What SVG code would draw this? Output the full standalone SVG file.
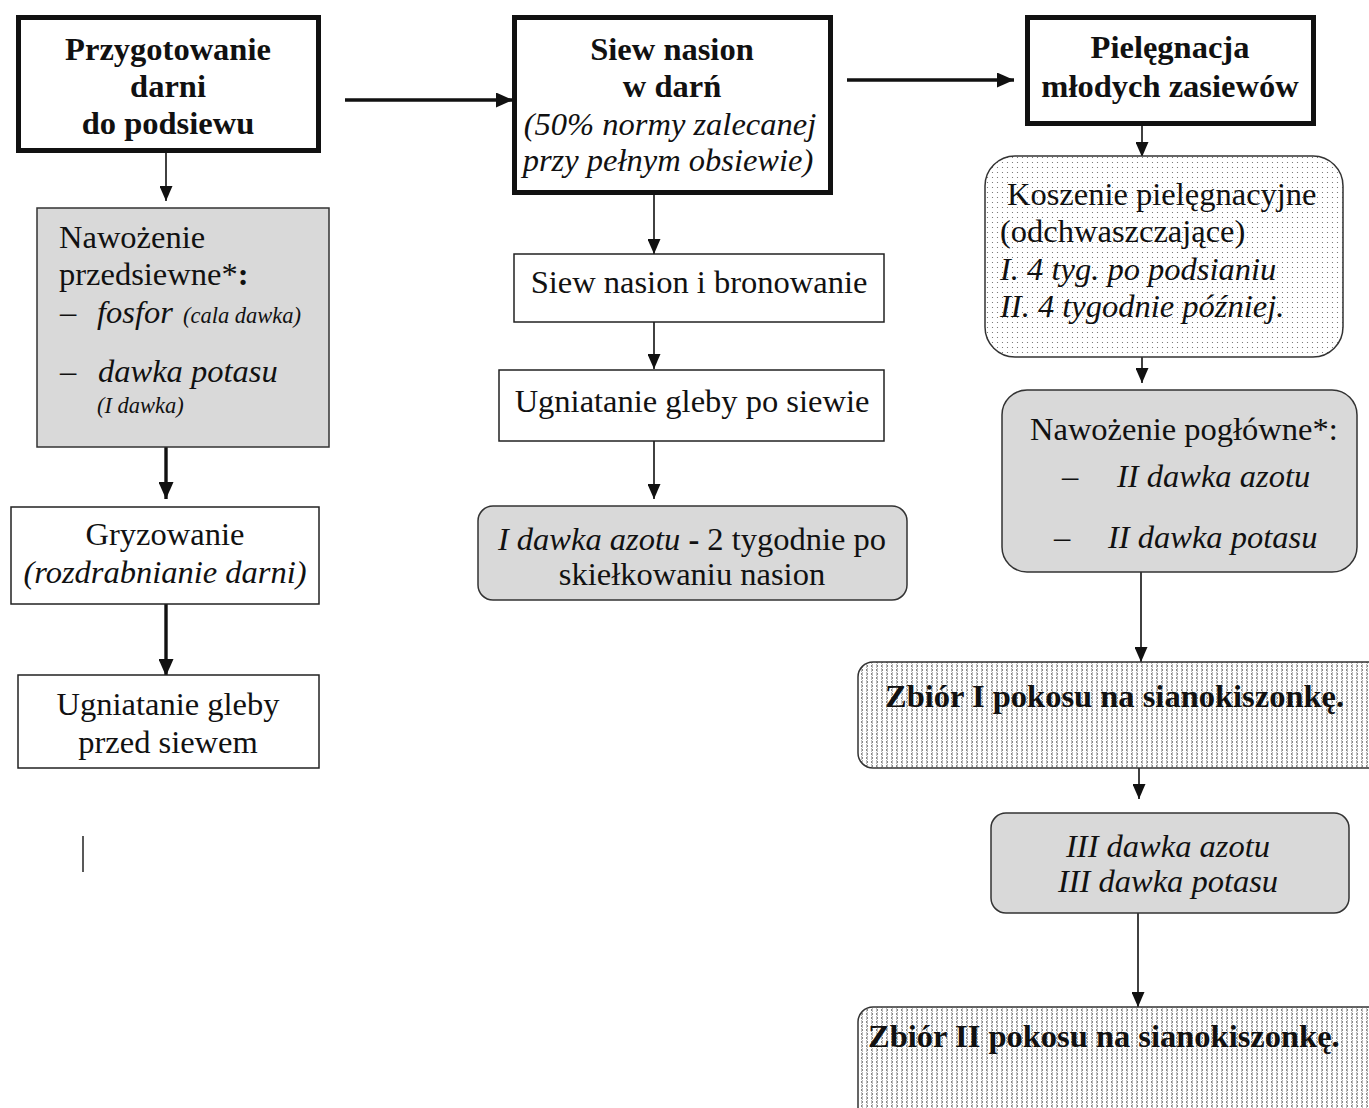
<svg xmlns="http://www.w3.org/2000/svg" width="1369" height="1108" viewBox="0 0 1369 1108">
<defs>
<style>
text{font-family:"Liberation Serif","Times New Roman",serif;fill:#111;}
.t{font-size:32.5px;}
.b{font-size:32.5px;font-weight:bold;}
.i{font-style:italic;}
.s{font-size:22.5px;font-style:italic;}
.thick{fill:#fff;stroke:#111;stroke-width:5;}
.thin{fill:#fff;stroke:#222;stroke-width:1.5;}
.gray{fill:#d9d9d9;stroke:#333;stroke-width:1.5;}
.dots{fill:url(#pd);stroke:#333;stroke-width:1.5;}
.zig{fill:url(#pz);stroke:#333;stroke-width:1.5;}
.c1{stroke:#111;stroke-width:1.6;fill:none;marker-end:url(#ah);}
.c3{stroke:#111;stroke-width:3.4;fill:none;marker-end:url(#ah3);}
</style>
<marker id="ah" markerUnits="userSpaceOnUse" markerWidth="15" markerHeight="13" refX="15" refY="6.5" orient="auto"><path d="M0,0 L15,6.5 L0,13 Z" fill="#111"/></marker>
<marker id="ah3" markerUnits="userSpaceOnUse" markerWidth="17" markerHeight="15" refX="17" refY="7.5" orient="auto"><path d="M0,0 L17,7.5 L0,15 Z" fill="#111"/></marker>
<pattern id="pd" patternUnits="userSpaceOnUse" width="5" height="5"><rect width="5" height="5" fill="#fff"/><circle cx="2.5" cy="2.5" r="0.6" fill="#666"/></pattern>
<pattern id="pz" patternUnits="userSpaceOnUse" width="10" height="8"><rect width="10" height="8" fill="#fff"/><path d="M3,0.6 L1,2 L3,3.4 M6,0.6 L8,2 L6,3.4 M1,4.6 L3,6 L1,7.4 M8,4.6 L6,6 L8,7.4" stroke="#555" stroke-width="0.8" fill="none"/></pattern>
</defs>
<rect width="1369" height="1108" fill="#fff"/>

<g id="connectors">
<line class="c1" x1="166" y1="153" x2="166" y2="201"/>
<line class="c3" x1="166" y1="447" x2="166" y2="499"/>
<line class="c3" x1="166" y1="604" x2="166" y2="676"/>
<line class="c3" x1="345" y1="100" x2="513" y2="100"/>
<line class="c3" x1="847" y1="80" x2="1014" y2="80"/>
<line class="c1" x1="654" y1="195" x2="654" y2="254"/>
<line class="c1" x1="654" y1="322" x2="654" y2="369"/>
<line class="c1" x1="654" y1="441" x2="654" y2="499"/>
<line class="c1" x1="1142" y1="125" x2="1142" y2="157"/>
<line class="c1" x1="1142" y1="357" x2="1142" y2="383"/>
<line class="c1" x1="1141" y1="563" x2="1141" y2="662"/>
<line class="c1" x1="1139" y1="768" x2="1139" y2="799"/>
<line class="c1" x1="1138" y1="913" x2="1138" y2="1007"/>
<line x1="83" y1="836" x2="83" y2="872" stroke="#222" stroke-width="1.5"/>
</g>

<g id="n-przygotowanie">
<rect class="thick" x="18.5" y="17.5" width="300" height="133"/>
<text class="b" x="168" y="60" text-anchor="middle">Przygotowanie</text>
<text class="b" x="168" y="97" text-anchor="middle">darni</text>
<text class="b" x="168" y="134" text-anchor="middle">do podsiewu</text>
</g>

<g id="n-nawozenie-przedsiewne">
<rect class="gray" x="37" y="208" width="292" height="239"/>
<text class="t" x="59" y="248">Nawożenie</text>
<text class="t" x="59" y="285">przedsiewne*<tspan font-weight="bold">:</tspan></text>
<text class="t" x="60" y="323">–</text>
<text class="t i" x="97" y="323">fosfor <tspan class="s" dx="2">(cala dawka)</tspan></text>
<text class="t" x="60" y="382">–</text>
<text class="t i" x="98" y="382">dawka potasu</text>
<text class="s" x="97" y="413">(I dawka)</text>
</g>

<g id="n-gryzowanie">
<rect class="thin" x="11" y="507" width="308" height="97"/>
<text class="t" x="165" y="545" text-anchor="middle">Gryzowanie</text>
<text class="t i" x="165" y="583" text-anchor="middle">(rozdrabnianie darni)</text>
</g>

<g id="n-ugniatanie-przed">
<rect class="thin" x="18" y="675" width="301" height="93"/>
<text class="t" x="168" y="715" text-anchor="middle">Ugniatanie gleby</text>
<text class="t" x="168" y="753" text-anchor="middle">przed siewem</text>
</g>

<g id="n-siew-w-darn">
<rect class="thick" x="514.5" y="17.5" width="316" height="175"/>
<text class="b" x="672" y="60" text-anchor="middle">Siew nasion</text>
<text class="b" x="672" y="97" text-anchor="middle">w darń</text>
<text class="t i" x="670" y="135" text-anchor="middle">(50% normy zalecanej</text>
<text class="t i" x="668" y="171" text-anchor="middle">przy pełnym obsiewie)</text>
</g>

<g id="n-siew-bronowanie">
<rect class="thin" x="514" y="254" width="370" height="68"/>
<text class="t" x="699" y="293" text-anchor="middle">Siew nasion i bronowanie</text>
</g>

<g id="n-ugniatanie-po">
<rect class="thin" x="499" y="370" width="385" height="71"/>
<text class="t" x="692" y="412" text-anchor="middle">Ugniatanie gleby po siewie</text>
</g>

<g id="n-i-dawka-azotu">
<rect class="gray" x="478" y="506" width="429" height="94" rx="15"/>
<text class="t" x="692" y="550" text-anchor="middle"><tspan font-style="italic">I dawka azotu</tspan> <tspan font-weight="bold">-</tspan> 2 tygodnie po</text>
<text class="t" x="692" y="585" text-anchor="middle">skiełkowaniu nasion</text>
</g>

<g id="n-pielegnacja">
<rect class="thick" x="1027.5" y="17.5" width="286" height="106"/>
<text class="b" x="1170" y="58" text-anchor="middle">Pielęgnacja</text>
<text class="b" x="1170" y="97" text-anchor="middle">młodych zasiewów</text>
</g>

<g id="n-koszenie">
<rect class="dots" x="985" y="156" width="358" height="201" rx="30"/>
<text class="t" x="1007" y="205">Koszenie pielęgnacyjne</text>
<text class="t" x="1000" y="242">(odchwaszczające)</text>
<text class="t i" x="1000" y="280">I. 4 tyg. po podsianiu</text>
<text class="t i" x="1000" y="317">II. 4 tygodnie później.</text>
</g>

<g id="n-nawozenie-poglowne">
<rect class="gray" x="1002" y="390" width="355" height="182" rx="25"/>
<text class="t" x="1030" y="440">Nawożenie pogłówne*:</text>
<text class="t" x="1062" y="487">–</text>
<text class="t i" x="1117" y="487">II dawka azotu</text>
<text class="t" x="1054" y="548">–</text>
<text class="t i" x="1108" y="548">II dawka potasu</text>
</g>

<g id="n-zbior-1">
<rect class="zig" x="858" y="662" width="530" height="106" rx="15"/>
<text class="b" x="885" y="707">Zbiór I pokosu na sianokiszonkę.</text>
</g>

<g id="n-iii-dawka">
<rect class="gray" x="991" y="813" width="358" height="100" rx="15"/>
<text class="t i" x="1168" y="857" text-anchor="middle">III dawka azotu</text>
<text class="t i" x="1168" y="892" text-anchor="middle">III dawka potasu</text>
</g>

<g id="n-zbior-2">
<rect class="zig" x="858" y="1007" width="530" height="120" rx="15"/>
<text class="b" x="868" y="1047">Zbiór II pokosu na sianokiszonkę.</text>
</g>
</svg>
